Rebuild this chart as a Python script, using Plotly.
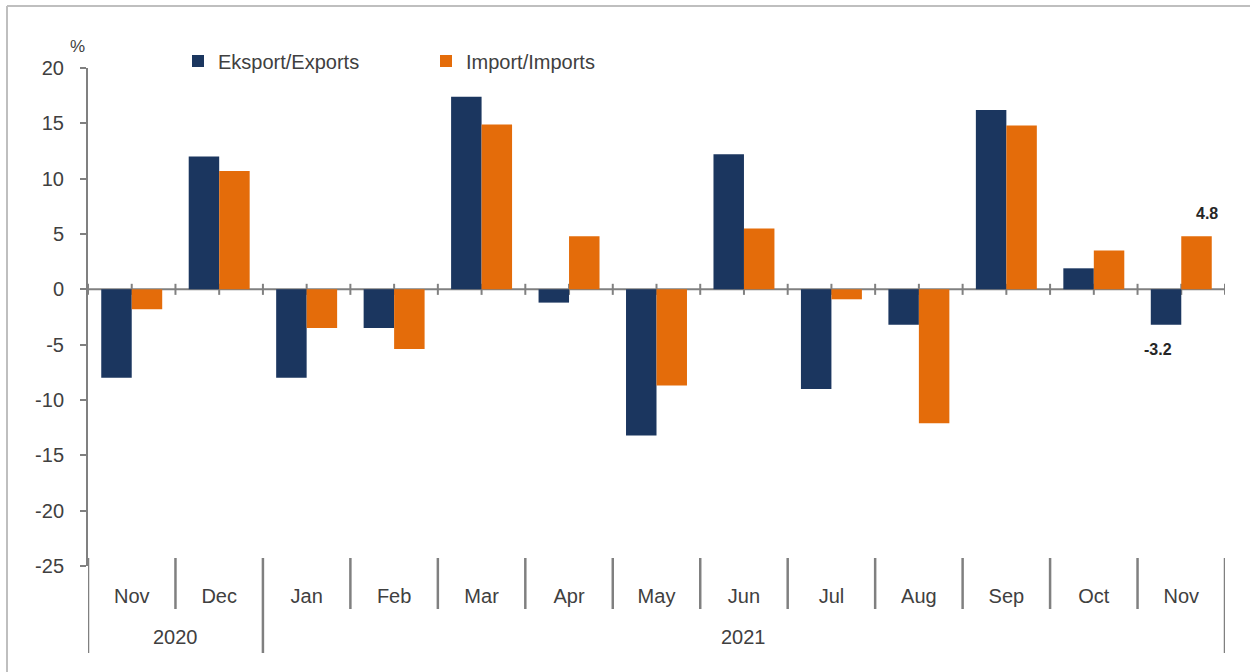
import plotly.graph_objects as go

months = ["Nov", "Dec", "Jan", "Feb", "Mar", "Apr", "May", "Jun", "Jul", "Aug", "Sep", "Oct", "Nov"]
years = ["2020", "2020", "2021", "2021", "2021", "2021", "2021", "2021", "2021", "2021", "2021", "2021", "2021"]
exports = [-8.0, 12.0, -8.0, -3.5, 17.4, -1.2, -13.2, 12.2, -9.0, -3.2, 16.2, 1.9, -3.2]
imports = [-1.8, 10.7, -3.5, -5.4, 14.9, 4.8, -8.7, 5.5, -0.9, -12.1, 14.8, 3.5, 4.8]
y_ticks = [20, 15, 10, 5, 0, -5, -10, -15, -20, -25]

NAVY = "#1B365F"
ORANGE = "#E46C0A"
GRAY = "#808080"
TXT = "#404040"
FONT = "Liberation Sans, Arial, sans-serif"

n = len(months)
xs = list(range(n))

# plot area in page pixels: x 88..1225, y 68..566
PL, PT, PW, PH = 88, 68, 1137, 498


def px(xp):
    return (xp - PL) / PW


def py(yp):
    return (PT + PH - yp) / PH


fig = go.Figure()
fig.add_trace(go.Bar(x=xs, y=exports, name="Eksport/Exports", marker_color=NAVY,
                     marker_line_width=0))
fig.add_trace(go.Bar(x=xs, y=imports, name="Import/Imports", marker_color=ORANGE,
                     marker_line_width=0))

shapes = []
shapes.append(dict(type="line", xref="x", yref="y", x0=-0.5, x1=n - 0.5, y0=0, y1=0,
                   line=dict(color=GRAY, width=2), layer="below"))
for k in range(2 * n + 1):
    xv = -0.5 + k * 0.5
    shapes.append(dict(type="line", xref="x", yref="y", x0=xv, x1=xv, y0=-0.5, y1=0.5,
                       line=dict(color=GRAY, width=2), layer="below"))
for i in range(n + 1):
    xb = i - 0.5
    if i == 0 or i == n or years[i] != years[i - 1]:
        y0, y1 = py(558), py(653)
    else:
        y0, y1 = py(558), py(609)
    shapes.append(dict(type="line", xref="x", yref="paper", x0=xb, x1=xb, y0=y0, y1=y1,
                       line=dict(color=GRAY, width=2.5)))
# outer frame: only top and left edges fall inside the picture
shapes.append(dict(type="line", xref="paper", yref="paper",
                   x0=px(7), x1=px(1260), y0=py(6), y1=py(6),
                   line=dict(color="#BFBFBF", width=2)))
shapes.append(dict(type="line", xref="paper", yref="paper",
                   x0=px(7), x1=px(7), y0=py(6), y1=py(690),
                   line=dict(color="#BFBFBF", width=2)))

annotations = []
uniq = []
for y in years:
    if y not in uniq:
        uniq.append(y)
for yr in uniq:
    idx = [i for i, v in enumerate(years) if v == yr]
    annotations.append(dict(x=(idx[0] + idx[-1]) / 2, y=py(637), xref="x", yref="paper",
                            xanchor="center", yanchor="middle",
                            text=yr, showarrow=False, font=dict(size=20, color=TXT, family=FONT)))
annotations.append(dict(x=px(77), y=py(47), xref="paper", yref="paper",
                        xanchor="center", yanchor="middle",
                        text="%", showarrow=False, font=dict(size=17, color=TXT, family=FONT)))
annotations.append(dict(x=xs[-1], y=imports[-1], xref="x", yref="y", xshift=26, yshift=23,
                        xanchor="center", yanchor="middle",
                        text=f"{imports[-1]:.1f}", showarrow=False,
                        font=dict(size=16, color="#262626", family=FONT, weight="bold")))
annotations.append(dict(x=xs[-1], y=exports[-1], xref="x", yref="y", xshift=-23, yshift=-25,
                        xanchor="center", yanchor="middle",
                        text=f"{exports[-1]:.1f}", showarrow=False,
                        font=dict(size=16, color="#262626", family=FONT, weight="bold")))

W, H = 1250, 672
fig.update_layout(
    width=W, height=H,
    margin=dict(l=PL, r=W - PL - PW, t=PT, b=H - PT - PH),
    paper_bgcolor="white", plot_bgcolor="white",
    barmode="group", bargap=0.303, bargroupgap=0,
    font=dict(family=FONT, size=20, color=TXT),
    showlegend=True,
    legend=dict(orientation="h", x=px(178), xanchor="left",
                y=py(61), yanchor="middle",
                entrywidth=203, entrywidthmode="pixels",
                font=dict(size=20, color=TXT, family=FONT),
                bgcolor="rgba(0,0,0,0)", traceorder="normal"),
    xaxis=dict(range=[-0.5, n - 0.5], tickmode="array", tickvals=xs, ticktext=months,
               showgrid=False, zeroline=False, showline=False, ticks="",
               ticklabelstandoff=16, tickfont=dict(size=20, color=TXT, family=FONT)),
    yaxis=dict(range=[-25, 20], tickmode="array", tickvals=y_ticks,
               ticktext=[str(v) for v in y_ticks],
               showgrid=False, zeroline=False, showline=True, linecolor=GRAY, linewidth=2,
               ticks="outside", ticklen=6, tickwidth=2, tickcolor=GRAY,
               ticklabelstandoff=12, tickfont=dict(size=20, color=TXT, family=FONT)),
    shapes=shapes,
    annotations=annotations,
)

fig.write_html("out.html", config={"displayModeBar": False},
               post_script="document.body.style.margin='0px';document.body.style.overflow='hidden';")
